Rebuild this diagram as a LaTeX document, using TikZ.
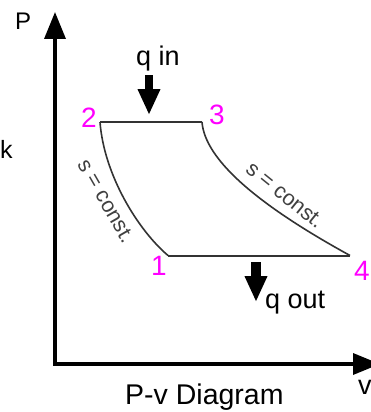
\documentclass[tikz,border=0pt]{standalone}
\usepackage{fontspec}
\setmainfont{Liberation Sans}
\usetikzlibrary{arrows.meta}
\definecolor{ptmag}{HTML}{FF00FF}
\definecolor{cycgray}{HTML}{333333}
\begin{document}
\begin{tikzpicture}[x=1pt,y=-1pt,
  axis/.style={line width=3.5pt,-{Triangle[length=27pt,width=21pt]}},
  heat/.style={-{Triangle[length=26pt,width=21pt]}},
  cyc/.style={line width=2pt,cycgray},
  curv/.style={line width=1.6pt,cycgray},
  lab/.style={inner sep=0pt,font=\fontsize{27}{30}\selectfont},
  ptlab/.style={inner sep=0pt,text=ptmag,font=\fontsize{28}{30}\selectfont},
  slab/.style={inner sep=0pt,text=black!75,font=\fontsize{21.5}{24}\selectfont}]
\useasboundingbox[fill=white] (0,0) rectangle (370,412);
% axes
\coordinate (O) at (55,364);
\coordinate (Ptop) at (55,12);
\coordinate (Vend) at (380,364);
\coordinate (Obot) at (55,365.75);
\coordinate (Oleft) at (53.25,364);
\draw[axis] (Obot) -- (Ptop);
\draw[axis] (Oleft) -- (Vend);
% cycle points
\coordinate (p1) at (168,255.5);
\coordinate (p2) at (100,122);
\coordinate (p3) at (202,122);
\coordinate (p4) at (350,255.5);
\draw[cyc] (p2) -- (p3);
\draw[cyc] (p1) -- (p4);
\draw[curv] (p2) .. controls (104,175) and (138,230) .. (p1);
\draw[curv] (p3) .. controls (205,160) and (258,205) .. (p4);
% heat arrows
\coordinate (qinA) at (149,75);
\coordinate (qinB) at (149,115);
\coordinate (qoutA) at (256,262);
\coordinate (qoutB) at (256,302);
\draw[heat,line width=8pt] (qinA) -- (qinB);
\draw[heat,line width=10pt] (qoutA) -- (qoutB);
% labels
\node[lab,anchor=base west,font=\fontsize{24}{26}\selectfont] (Plab) at (15,30) {P};
\node[lab,anchor=base west,font=\fontsize{25}{26}\selectfont] (klab) at (0,158) {k};
\node[lab,anchor=base west] (qin) at (136,66) {q in};
\node[lab,anchor=base west] (qout) at (265,308) {q out};
\node[lab,anchor=base west,font=\fontsize{28.5}{30}\selectfont] (title) at (125,404) {P-v Diagram};
\node[lab,anchor=base west] (vlab) at (358,394) {v};
\node[ptlab,anchor=base west] (n2) at (81,127) {2};
\node[ptlab,anchor=base west] (n3) at (209,124) {3};
\node[ptlab,anchor=base] (n1) at (159,275) {1};
\node[ptlab,anchor=base west] (n4) at (354,280) {4};
\node[slab,rotate=-60] (s1) at (106,201) {s = const.};
\node[slab,rotate=-39] (s2) at (285,195) {s = const.};
\end{tikzpicture}
\end{document}
